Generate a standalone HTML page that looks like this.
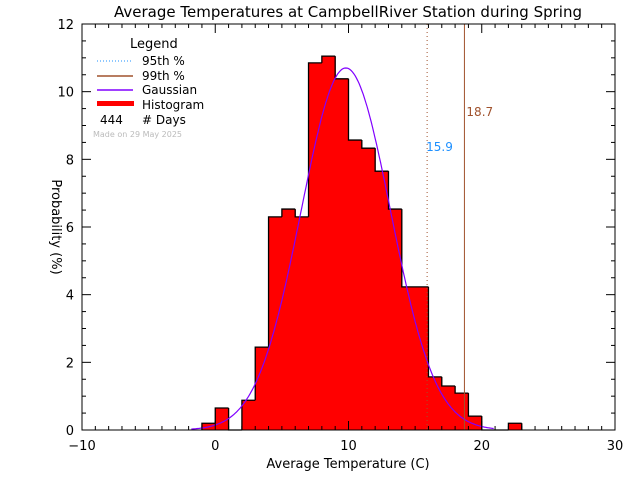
<!DOCTYPE html>
<html><head><meta charset="utf-8"><style>
body{margin:0;background:#fff}
text{font-family:"DejaVu Sans","Liberation Sans",sans-serif}
</style></head><body>
<svg id="chart" width="640" height="480" xmlns="http://www.w3.org/2000/svg">
<rect width="640" height="480" fill="#fff"/>
<text x="348" y="17" font-size="15" text-anchor="middle">Average Temperatures at CampbellRiver Station during Spring</text>
<g id="bars"></g>
<g id="curve"></g>
<g id="axes"></g>
<text x="348" y="468" font-size="13" text-anchor="middle">Average Temperature (C)</text>
<text transform="translate(52,227) rotate(90)" font-size="13" text-anchor="middle">Probability  (%)</text>
<g>
<text x="130" y="48" font-size="13">Legend</text>
<line x1="97" y1="61" x2="133" y2="61" stroke="#1e90ff" stroke-dasharray="1,2"/>
<text x="142" y="65" font-size="12">95th %</text>
<line x1="97" y1="76" x2="133" y2="76" stroke="#a0522d" stroke-width="1.5"/>
<text x="142" y="80" font-size="12">99th %</text>
<line x1="97" y1="90" x2="133" y2="90" stroke="#8000ff" stroke-width="1.5"/>
<text x="142" y="94" font-size="12">Gaussian</text>
<rect x="97" y="101" width="37" height="5" fill="#f00"/>
<text x="142" y="109" font-size="12">Histogram</text>
<text x="100" y="124" font-size="12">444</text>
<text x="142" y="124" font-size="12"># Days</text>
<text x="93" y="137" font-size="8" fill="#bbb">Made on 29 May 2025</text>
</g>
</svg>
<script>
const binStarts=[-1,0,1,2,3,4,5,6,7,8,9,10,11,12,13,14,15,16,17,18,19,20,21,22];
const binValues=[0.2,0.65,0,0.88,2.45,6.3,6.53,6.3,10.85,11.05,10.38,8.57,8.33,7.65,6.53,4.23,4.23,1.57,1.3,1.09,0.41,0,0,0.2];
const gaussMean=[9.8];
const gaussSigma=[3.35];
const gaussPeak=[10.7];
const percentiles=[15.9,18.7];
const xTicks=[-10,0,10,20,30];
const yTicks=[0,2,4,6,8,10,12];
const X0=82,X1=615,Y0=430,Y1=24;
const sx=v=>X0+(v+10)/40*(X1-X0);
const sy=v=>Y0-v/12*(Y0-Y1);
const NS="http://www.w3.org/2000/svg";
function mk(t,a,p){const e=document.createElementNS(NS,t);for(const k in a)e.setAttribute(k,a[k]);p.appendChild(e);return e;}
const bars=document.getElementById('bars');
binStarts.forEach((b,i)=>{const v=binValues[i];if(v<=0)return;
const r=mk('rect',{x:sx(b),y:sy(v),width:sx(b+1)-sx(b)+0.5,height:sy(0)-sy(v),fill:'#f00'},bars);

});
let od='',prev=0;
binStarts.forEach((b,i)=>{const v=binValues[i];
od+='M'+sx(b)+','+sy(prev)+'L'+sx(b)+','+sy(v)+'L'+sx(b+1)+','+sy(v);prev=v;});
od+='M'+sx(binStarts[binStarts.length-1]+1)+','+sy(prev)+'L'+sx(binStarts[binStarts.length-1]+1)+','+sy(0);
const outline=mk('path',{d:od,fill:'none',stroke:'#000','stroke-width':1.3},bars);


const cg=document.getElementById('curve');
let d='';for(let t=-1.8;t<=21;t+=0.1){const v=gaussPeak[0]*Math.exp(-Math.pow(t-gaussMean[0],2)/(2*gaussSigma[0]*gaussSigma[0]));d+=(d?'L':'M')+sx(t).toFixed(1)+','+sy(v).toFixed(1);}
const p=mk('path',{d:d,fill:'none',stroke:'#8000ff','stroke-width':1.2},cg);


const l1=mk('line',{x1:sx(percentiles[0]),x2:sx(percentiles[0]),y1:Y1,y2:Y0,stroke:'#a0522d','stroke-dasharray':'1,3'},cg);


const l2=mk('line',{x1:sx(percentiles[1]),x2:sx(percentiles[1]),y1:Y1,y2:Y0,stroke:'#a0522d'},cg);


const t1=mk('text',{x:sx(percentiles[0])-1,y:151,'font-size':12,fill:'#1e90ff'},cg);t1.textContent=percentiles[0].toFixed(1);


const t2=mk('text',{x:sx(percentiles[1])+2,y:116,'font-size':12,fill:'#a0522d'},cg);t2.textContent=percentiles[1].toFixed(1);


const ax=document.getElementById('axes');
const fr=mk('rect',{x:X0,y:Y1,width:X1-X0,height:Y0-Y1,fill:'none',stroke:'#000','stroke-width':1},ax);


for(let v=-10;v<=30;v++){const L=v%10===0?9:4;
mk('line',{x1:sx(v),x2:sx(v),y1:Y0,y2:Y0-L,stroke:'#000'},ax);mk('line',{x1:sx(v),x2:sx(v),y1:Y1,y2:Y1+L,stroke:'#000'},ax);}
for(let v=0;v<=12;v+=0.5){const L=v%2===0?9:4;
mk('line',{x1:X0,x2:X0+L,y1:sy(v),y2:sy(v),stroke:'#000'},ax);mk('line',{x1:X1,x2:X1-L,y1:sy(v),y2:sy(v),stroke:'#000'},ax);}
xTicks.forEach(v=>{const t=mk('text',{x:sx(v),y:Y0+20,'font-size':13,'text-anchor':'middle'},ax);t.textContent=(v<0?'\u2212':'')+Math.abs(v);

});
yTicks.forEach(v=>{const t=mk('text',{x:X0-8,y:sy(v)+5,'font-size':13,'text-anchor':'end'},ax);t.textContent=v;

});
</script>
</body></html>
